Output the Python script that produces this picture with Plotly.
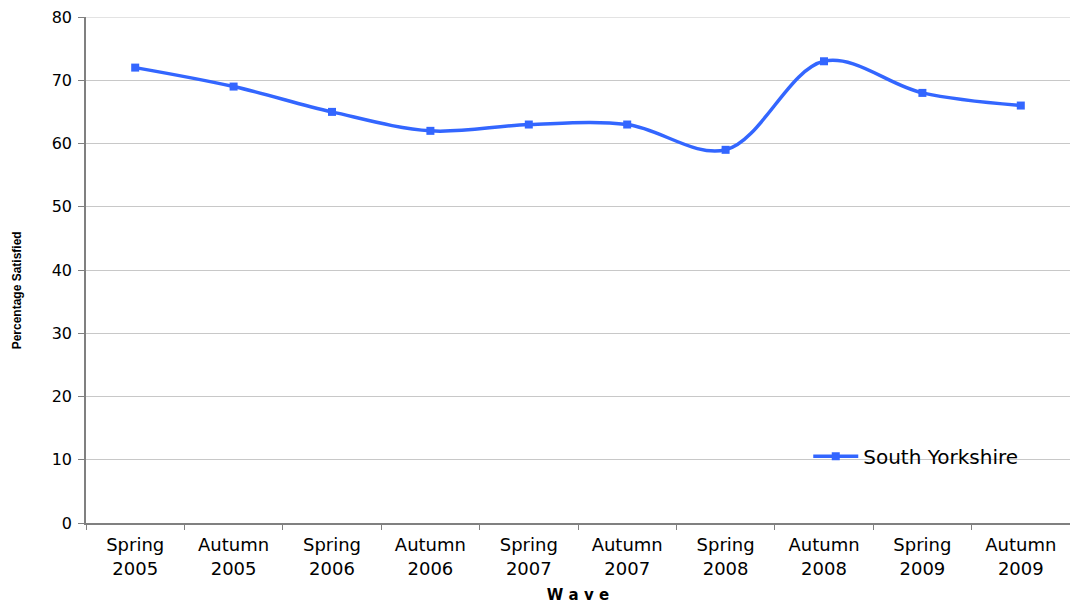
import plotly.graph_objects as go

waves = ["Spring<br>2005", "Autumn<br>2005", "Spring<br>2006", "Autumn<br>2006",
         "Spring<br>2007", "Autumn<br>2007", "Spring<br>2008", "Autumn<br>2008",
         "Spring<br>2009", "Autumn<br>2009"]
south_yorkshire = [72, 69, 65, 62, 63, 63, 59, 73, 68, 66]

blue = "#3366FF"
axis_grey = "#808080"

fig = go.Figure()
fig.add_trace(
    go.Scatter(
        x=waves,
        y=south_yorkshire,
        name="South Yorkshire",
        mode="lines+markers",
        line=dict(color=blue, width=3.5, shape="spline", smoothing=1.0),
        marker=dict(symbol="square", size=8, color=blue),
    )
)

# white patch behind the legend (hides the gridline at 10 on the right)
fig.add_shape(
    type="rect", xref="paper", yref="y", x0=0.662, x1=1.0, y0=3, y1=17,
    fillcolor="white", line=dict(width=0), layer="between",
)
# top gridline (plotly skips the one sitting on the plot edge)
fig.add_shape(
    type="line", xref="paper", yref="y", x0=0, x1=1, y0=80, y1=80,
    line=dict(color="#C8C8C8", width=1), layer="between",
)

# y title as an annotation so it can sit a bit below centre, like the original
fig.add_annotation(
    text="<b>Percentage Satisfied</b>",
    xref="paper", yref="paper", x=-0.070, y=0.46,
    xanchor="center", yanchor="middle", textangle=-90, showarrow=False,
    font=dict(family="Liberation Sans, Arial, sans-serif", size=12),
)

fig.update_layout(
    width=1070,
    height=604,
    margin=dict(l=86, r=0, t=17, b=81),
    paper_bgcolor="white",
    plot_bgcolor="white",
    font=dict(family="DejaVu Sans, Arial, sans-serif", color="black", size=15),
    showlegend=True,
    legend=dict(
        x=0.734, y=0.132, xanchor="left", yanchor="middle",
        bgcolor="rgba(0,0,0,0)", font=dict(size=20),
        itemwidth=45,
    ),
    xaxis=dict(
        type="category",
        range=[-0.5, 9.5],
        automargin=False,
        showgrid=False,
        showline=True,
        linecolor=axis_grey,
        linewidth=1.5,
        ticks="outside",
        tickson="boundaries",
        ticklen=5,
        tickcolor=axis_grey,
        tickfont=dict(size=18),
        ticklabelstandoff=5,
        title=dict(text="<b>W a v e</b>", font=dict(size=15), standoff=18),
    ),
    yaxis=dict(
        range=[0, 80],
        dtick=10,
        automargin=False,
        showgrid=True,
        gridcolor="#C8C8C8",
        gridwidth=1,
        zeroline=False,
        showline=True,
        linecolor=axis_grey,
        linewidth=1.5,
        ticks="outside",
        ticklen=6,
        tickcolor=axis_grey,
        tickfont=dict(size=16),
        ticklabelstandoff=3,
        ticklabeloverflow="allow",
    ),
)

# drop the default 8px page margin so the figure fills the window exactly
fig.write_html(
    "out.html",
    config={"displayModeBar": False},
    post_script="document.body.style.margin='0';document.body.style.overflow='hidden';",
)
